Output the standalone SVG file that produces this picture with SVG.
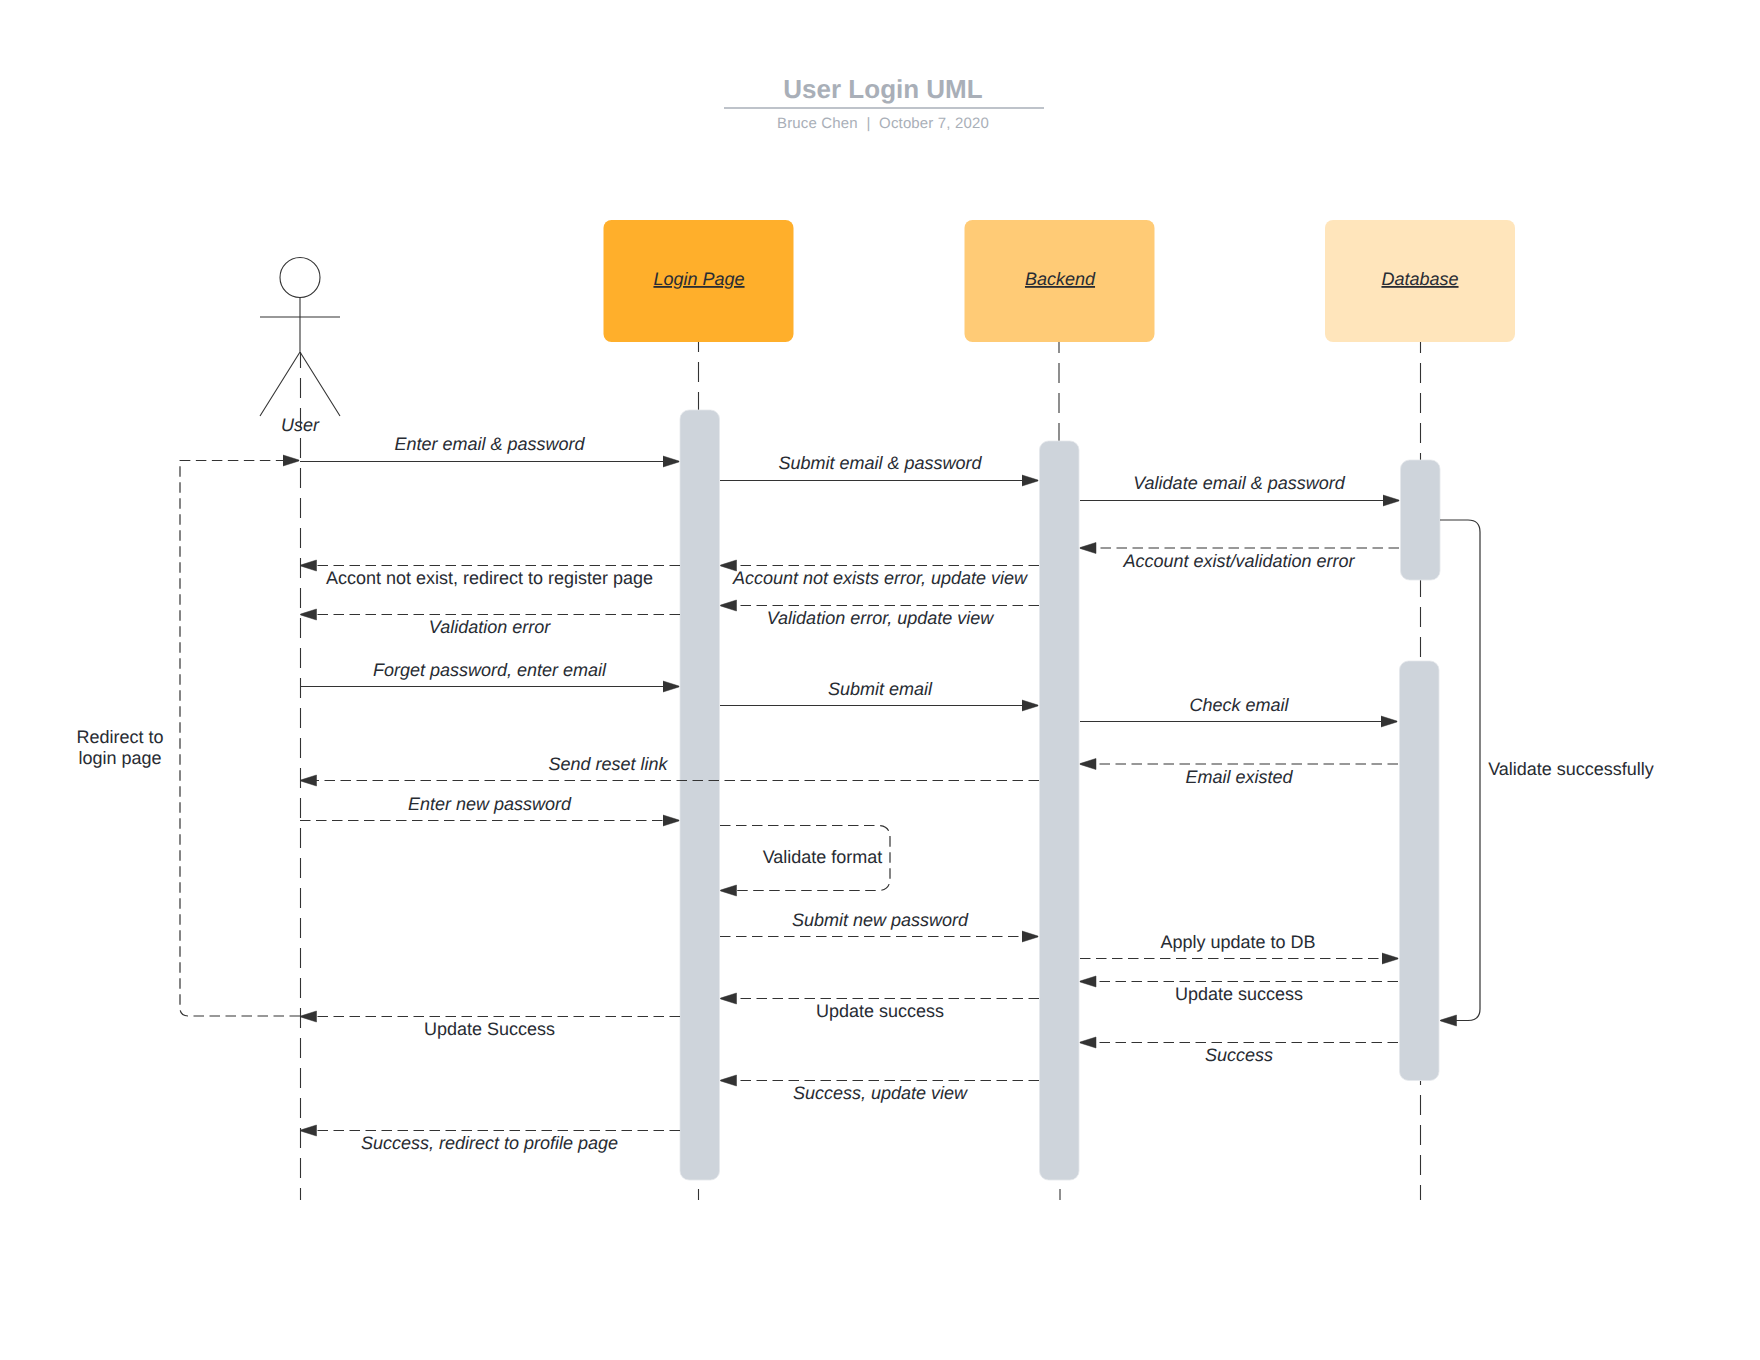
<svg xmlns="http://www.w3.org/2000/svg" width="1760" height="1360" viewBox="0 0 1760 1360">
<style>
text{font-family:"Liberation Sans",Arial,sans-serif;font-size:18px;fill:#282c33;text-anchor:middle;text-rendering:geometricPrecision}
.i{font-style:italic}
.u{font-style:italic;text-decoration:underline}
.bar{fill:#ced4db;stroke:#e4e7eb;stroke-width:.8}
.ll{fill:none;stroke:#333;stroke-width:1.1;stroke-dasharray:20 10}
.s,.d{fill:none;stroke:#333;stroke-width:1.2}
.d{stroke-dasharray:10.500 5.500}
.a{marker-end:url(#ah)}
.actor{fill:none;stroke:#333;stroke-width:1.1}
</style>
<defs>
<marker id="ah" markerUnits="userSpaceOnUse" markerWidth="18" markerHeight="14" refX="16.500" refY="7" orient="auto"><path d="M.5 1.500L16.500 6.600V7.400L.5 12.500z" fill="#333" stroke="#333" stroke-width=".5"/></marker>
</defs>
<rect width="1760" height="1360" fill="#fff"/>
<g id="title">
<text x="883" y="98" style="font-size:26px;font-weight:bold;fill:#a9afb8">User Login UML</text>
<path d="M724 108H1044" stroke="#a9afb8" stroke-width="1.6"/>
<text x="883" y="128" style="font-size:15px;fill:#a9afb8;letter-spacing:.15px">Bruce Chen&#160;&#160;|&#160;&#160;October 7, 2020</text>
</g>
<g id="lifelines">
<path class="ll" stroke-dashoffset="4" d="M300.500 352V1200"/>
<path class="ll" stroke-dashoffset="10" d="M698.500 342V410"/>
<path class="ll" d="M698.500 1189V1200"/>
<path class="ll" stroke-dashoffset="9" d="M1059 342V441"/>
<path class="ll" d="M1060 1189V1200"/>
<path class="ll" stroke-dashoffset="9" d="M1420.500 342V460"/>
<path class="ll" stroke-dashoffset="3" d="M1420.500 580V661"/>
<path class="ll" stroke-dashoffset="16" d="M1420.500 1081V1200"/>
</g>
<g id="actor-user">
<circle class="actor" cx="300" cy="277.500" r="20"/>
<path class="actor" d="M300 297.500V352M260 317H340M260 416L300 352L340 416"/>
<text class="i" x="300" y="431">User</text>
</g>
<g id="node-login"><rect x="603.500" y="220" width="190" height="122" rx="8" fill="#ffaf2b"/><text class="u" x="699" y="285">Login Page</text></g>
<g id="node-backend"><rect x="964.500" y="220" width="190" height="122" rx="8" fill="#ffcb76"/><text class="u" x="1060" y="285">Backend</text></g>
<g id="node-database"><rect x="1325" y="220" width="190" height="122" rx="8" fill="#ffe5bb"/><text class="u" x="1420" y="285">Database</text></g>
<g id="act-login"><rect class="bar" x="680" y="410" width="39.500" height="770" rx="9"/></g>
<g id="act-backend"><rect class="bar" x="1039.500" y="441" width="39.500" height="739" rx="9"/></g>
<g id="act-db1"><rect class="bar" x="1400.500" y="460" width="39.500" height="120" rx="9"/></g>
<g id="act-db2"><rect class="bar" x="1399.500" y="661" width="39.500" height="419.500" rx="9"/></g>
<g id="connectors">
<path class="s a" d="M300 461.500H679"/>
<path class="s a" d="M720 480.500H1038"/>
<path class="s a" d="M1080 500.500H1399"/>
<path class="d a" d="M1399 548H1080"/>
<path class="d a" d="M1039 565.500H720.500"/>
<path class="d a" d="M1039 605.500H720.500"/>
<path class="d a" d="M680 565.500H300.500"/>
<path class="d a" d="M680 614.500H300.500"/>
<path class="s a" d="M300 686.500H679"/>
<path class="s a" d="M720 705.500H1038"/>
<path class="s a" d="M1080 721.500H1397"/>
<path class="d a" d="M1398 764H1080"/>
<path class="d a" d="M1039 780.500H300.500"/>
<path class="d a" d="M300 820.500H679"/>
<path class="d a" d="M720 825.500H878Q890 825.500 890 837.500V878.500Q890 890.500 878 890.500H720.500"/>
<path class="d a" d="M720 936.500H1038"/>
<path class="d a" d="M1080 958.500H1398"/>
<path class="d a" d="M1398 981.500H1080"/>
<path class="d a" d="M1039 998.500H720.500"/>
<path class="d a" d="M680 1016.500H300.500"/>
<path class="d a" d="M1398 1042.500H1080"/>
<path class="d a" d="M1039 1080.500H720.500"/>
<path class="d a" d="M680 1130.500H300.500"/>
<path class="d a" d="M300 1016H188Q180 1016 180 1008V460.500H299"/>
<path class="s a" d="M1440 520H1468Q1480 520 1480 532V1009Q1480 1020.500 1468 1020.500H1440.500"/>
</g>
<g id="labels">
<text class="i" x="489.500" y="450">Enter email &amp; password</text>
<text class="i" x="880" y="469">Submit email &amp; password</text>
<text class="i" x="1239" y="489">Validate email &amp; password</text>
<text class="i" x="1239" y="566.500">Account exist/validation error</text>
<text class="i" x="880" y="583.500">Account not exists error, update view</text>
<text class="i" x="880" y="623.500">Validation error, update view</text>
<text x="489.500" y="583.500">Accont not exist, redirect to register page</text>
<text class="i" x="489.500" y="632.500">Validation error</text>
<text class="i" x="489.500" y="675.500">Forget password, enter email</text>
<text class="i" x="880" y="695">Submit email</text>
<text class="i" x="1239" y="711">Check email</text>
<text class="i" x="1239" y="783">Email existed</text>
<text class="i" x="608" y="769.500">Send reset link</text>
<text class="i" x="489.500" y="809.500">Enter new password</text>
<text x="822.500" y="862.500">Validate format</text>
<text class="i" x="880" y="925.500">Submit new password</text>
<text x="1238" y="947.500">Apply update to DB</text>
<text x="1239" y="1000">Update success</text>
<text x="880" y="1016.500">Update success</text>
<text x="489.500" y="1034.500">Update Success</text>
<text class="i" x="1239" y="1061">Success</text>
<text class="i" x="880" y="1098.500">Success, update view</text>
<text class="i" x="489.500" y="1148.500">Success, redirect to profile page</text>
<text x="120" y="743">Redirect to</text>
<text x="120" y="764">login page</text>
<text x="1571" y="774.500">Validate successfully</text>
</g>
</svg>
